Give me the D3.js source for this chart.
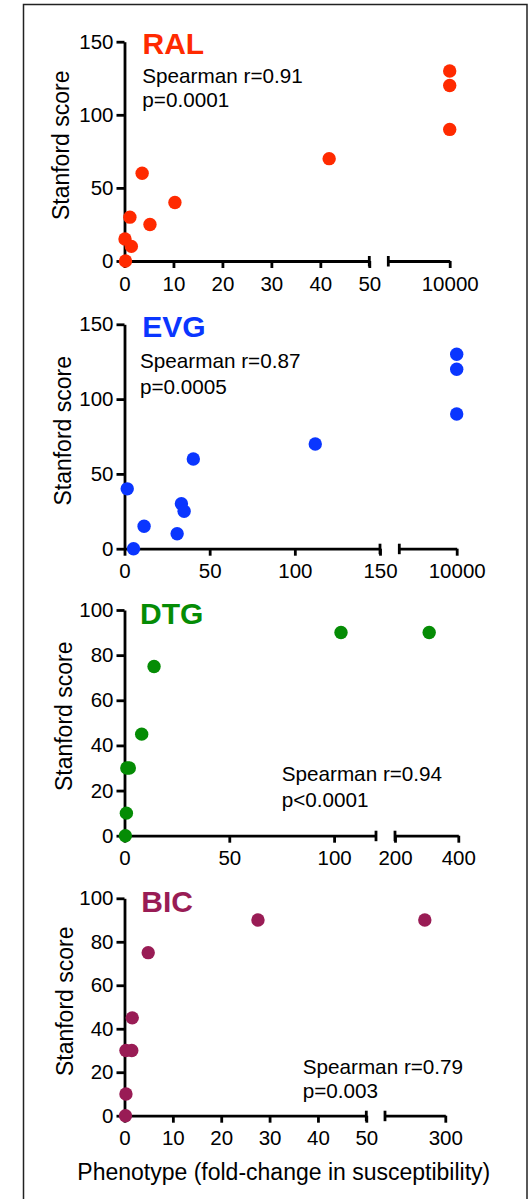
<!DOCTYPE html>
<html>
<head>
<meta charset="utf-8">
<script src="https://cdn.jsdelivr.net/npm/d3@7/dist/d3.min.js"></script>
<style>
  html, body { margin: 0; padding: 0; background: #fff; }
  svg { display: block; }
  text { font-family: "Liberation Sans", Arial, Helvetica, sans-serif; }
</style>
</head>
<body>
<svg id="chart" width="529" height="1199"></svg>
<script>
// ---------- data ----------
const drugNames = ["RAL", "EVG", "DTG", "BIC"];
const drugColors = ["#ff2a00", "#0a36ff", "#058c05", "#991c55"];

const ralX = [0.2, 0.1, 1.4, 1.1, 3.6, 5.2, 10.3, 41.8, 10000, 10000, 10000];
const ralY = [0, 15, 10, 30, 60, 25, 40, 70, 130, 120, 90];
const evgX = [1.6, 5.3, 11.5, 30.9, 33.4, 35, 40.4, 112, 10000, 10000, 10000];
const evgY = [40, 0, 15, 10, 30, 25, 60, 70, 130, 120, 90];
const dtgX = [0.4, 0.9, 1.1, 2.3, 8.2, 14.1, 103.3, 308];
const dtgY = [0, 10, 30, 30, 45, 75, 90, 90];
const bicX = [0.2, 0.3, 0.3, 1.5, 1.6, 4.9, 27.6, 266];
const bicY = [0, 10, 30, 30, 45, 75, 90, 90];

const spearmanR = ["0.91", "0.87", "0.94", "0.79"];
const pValues = ["p=0.0001", "p=0.0005", "p<0.0001", "p=0.003"];

// y axes
const yMax = [150, 150, 100, 100];
const yTicksRAL = [0, 50, 100, 150];
const yTicksEVG = [0, 50, 100, 150];
const yTicksDTG = [0, 20, 40, 60, 80, 100];
const yTicksBIC = [0, 20, 40, 60, 80, 100];

// broken x axes: first segment domain and ticks, second segment domain and ticks
const seg1Domain = [[0, 50], [0, 150], [0, 120], [0, 50]];
const seg1TicksRAL = [0, 10, 20, 30, 40, 50];
const seg1TicksEVG = [0, 50, 100, 150];
const seg1TicksDTG = [0, 50, 100];
const seg1TicksBIC = [0, 10, 20, 30, 40, 50];
const seg2Domain = [[9000, 10000], [9000, 10000], [200, 400], [200, 300]];
const seg2TicksRAL = [10000];
const seg2TicksEVG = [10000];
const seg2TicksDTG = [200, 400];
const seg2TicksBIC = [300];

const yLabel = "Stanford score";
const xLabel = "Phenotype (fold-change in susceptibility)";

// ---------- layout (pixels) ----------
const xs = [ralX, evgX, dtgX, bicX];
const ysData = [ralY, evgY, dtgY, bicY];
const yTicks = [yTicksRAL, yTicksEVG, yTicksDTG, yTicksBIC];
const s1Ticks = [seg1TicksRAL, seg1TicksEVG, seg1TicksDTG, seg1TicksBIC];
const s2Ticks = [seg2TicksRAL, seg2TicksEVG, seg2TicksDTG, seg2TicksBIC];

const layout = [
  { yTop: 41.7, y0: 261.0, s1: [124.5, 369.3], s2: [388.3, 449.7],
    title: [142.5, 54], stat: [142.3, 83.3, 107.3], ylab: [69, 145.3] },
  { yTop: 324.3, y0: 548.7, s1: [124.5, 380.0], s2: [399.3, 456.7],
    title: [142.3, 336.7], stat: [140.0, 368.3, 394.3], ylab: [71, 430.8] },
  { yTop: 610.0, y0: 835.7, s1: [124.5, 376.0], s2: [395.0, 458.3],
    title: [140.0, 624.3], stat: [281.7, 780.7, 806.7], ylab: [72, 716.3] },
  { yTop: 898.3, y0: 1115.7, s1: [124.5, 366.3], s2: [385.0, 445.3],
    title: [141.3, 911.7], stat: [302.7, 1074.0, 1098.3], ylab: [72.7, 1001.3] }
];

const svg = d3.select("#chart");
const AXW = 2.8;
const fmt = d3.format("d");

// outer frame
svg.append("rect")
  .attr("x", 23.5).attr("y", 4.5)
  .attr("width", 503.5).attr("height", 1210)
  .attr("fill", "none").attr("stroke", "#222").attr("stroke-width", 1.5);

layout.forEach((L, i) => {
  const g = svg.append("g");
  const y = d3.scaleLinear().domain([0, yMax[i]]).range([L.y0, L.yTop]);
  const x1 = d3.scaleLinear().domain(seg1Domain[i]).range(L.s1);
  const x2 = d3.scaleLinear().domain(seg2Domain[i]).range(L.s2);
  const xAt = v => (v <= seg1Domain[i][1] ? x1(v) : x2(v));

  // y axis
  const yAx = g.append("g")
    .attr("transform", `translate(${L.s1[0]},0)`)
    .call(d3.axisLeft(y).tickValues(yTicks[i]).tickFormat(fmt)
      .tickSize(8).tickSizeOuter(0).tickPadding(3));

  // x axis segments
  const xa1 = g.append("g")
    .attr("transform", `translate(0,${L.y0})`)
    .call(d3.axisBottom(x1).tickValues(s1Ticks[i]).tickFormat(fmt)
      .tickSize(7).tickSizeOuter(0).tickPadding(8));
  const xa2 = g.append("g")
    .attr("transform", `translate(0,${L.y0})`)
    .call(d3.axisBottom(x2).tickValues(s2Ticks[i]).tickFormat(fmt)
      .tickSize(7).tickSizeOuter(0).tickPadding(8));

  [yAx, xa1, xa2].forEach(a => {
    a.attr("font-size", null).attr("font-family", null);
    a.selectAll("path.domain").attr("stroke", "#000").attr("stroke-width", AXW);
    a.selectAll(".tick line").attr("stroke", "#000").attr("stroke-width", AXW);
    a.selectAll(".tick text").attr("fill", "#000")
      .style("font-size", "20.5px")
      .style("font-family", '"Liberation Sans", Arial, sans-serif');
  });

  // break caps
  [L.s1[1], L.s2[0]].forEach(px => {
    g.append("line")
      .attr("x1", px).attr("x2", px)
      .attr("y1", L.y0 - 5).attr("y2", L.y0 + 5.5)
      .attr("stroke", "#000").attr("stroke-width", AXW);
  });

  // dots
  g.selectAll("circle.dot")
    .data(d3.range(xs[i].length))
    .join("circle")
    .attr("class", "dot")
    .attr("cx", k => xAt(xs[i][k]))
    .attr("cy", k => y(ysData[i][k]))
    .attr("r", 6.7)
    .attr("fill", drugColors[i]);

  // title
  g.append("text")
    .attr("x", L.title[0]).attr("y", L.title[1])
    .attr("fill", drugColors[i])
    .style("font-size", "30px").style("font-weight", "bold")
    .text(drugNames[i]);

  // stats
  g.append("text")
    .attr("x", L.stat[0]).attr("y", L.stat[1])
    .style("font-size", "20.7px").attr("fill", "#000")
    .text("Spearman r=" + spearmanR[i]);
  g.append("text")
    .attr("x", L.stat[0]).attr("y", L.stat[2])
    .style("font-size", "20.7px").attr("fill", "#000")
    .text(pValues[i]);

  // y label
  g.append("text")
    .attr("transform", `translate(${L.ylab[0]},${L.ylab[1]}) rotate(-90)`)
    .attr("text-anchor", "middle")
    .style("font-size", "23px").attr("fill", "#000")
    .text(yLabel);
});

// x label
svg.append("text")
  .attr("x", 77.3).attr("y", 1179.5)
  .style("font-size", "23px").attr("fill", "#000")
  .text(xLabel);
</script>
</body>
</html>
